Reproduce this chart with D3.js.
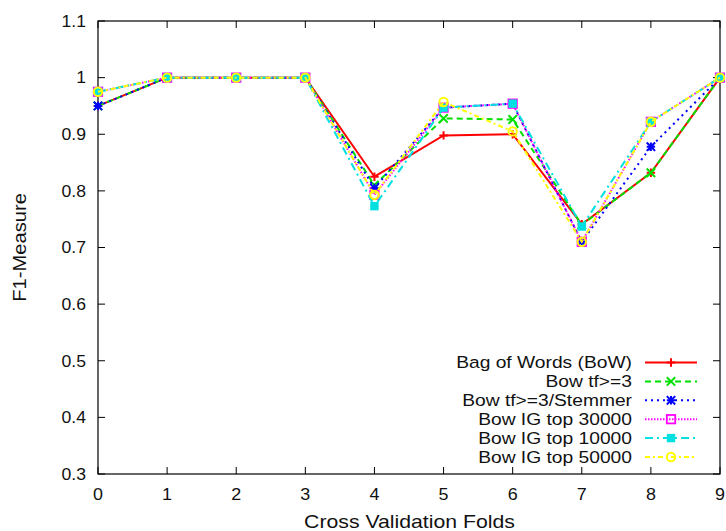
<!DOCTYPE html>
<html><head><meta charset="utf-8">
<script src="https://cdn.jsdelivr.net/npm/d3@7"></script>
<style>body{margin:0;background:#fff}svg{display:block}text{font-family:"Liberation Sans",Arial,sans-serif;fill:#111}</style>
</head><body><svg id="c" width="726" height="531"></svg>
<script>
const folds = [0,1,2,3,4,5,6,7,8,9];
const seriesNames = ["Bag of Words (BoW)","Bow tf>=3","Bow tf>=3/Stemmer","Bow IG top 30000","Bow IG top 10000","Bow IG top 50000"];
const bow       = [0.95,1,1,1,0.825,0.898,0.900,0.741,0.832,1];
const bowTf3    = [0.95,1,1,1,0.810,0.928,0.926,0.740,0.832,1];
const bowStem   = [0.95,1,1,1,0.805,0.947,0.954,0.710,0.878,1];
const bowIG30k  = [0.975,1,1,1,0.793,0.947,0.954,0.710,0.922,1];
const bowIG10k  = [0.975,1,1,1,0.773,0.947,0.954,0.737,0.922,1];
const bowIG50k  = [0.975,1,1,1,0.793,0.957,0.905,0.710,0.922,1];
const yTicks = [0.3,0.4,0.5,0.6,0.7,0.8,0.9,1,1.1];

const styles = [
  {c:"#ff0000", dash:null, m:"plus"},
  {c:"#00e000", dash:"6,4", m:"cross"},
  {c:"#0000ff", dash:"2,4", m:"star"},
  {c:"#ff00ff", dash:"1.5,1.5", m:"osq"},
  {c:"#00e0e0", dash:"8,4,2,4", m:"fsq"},
  {c:"#ffff00", dash:"5,3,2,3", m:"ocirc"}
];
const data = [bow,bowTf3,bowStem,bowIG30k,bowIG10k,bowIG50k];

const svg = d3.select("#c");
const L=98,R=720,T=21,B=474;
const x = d3.scaleLinear().domain([0,9]).range([L,R]);
const y = d3.scaleLinear().domain([0.3,1.1]).range([B,T]);

function label(px,py,str,size,sx,anchor,rot){
  return svg.append("text")
    .attr("transform",`translate(${px},${py})${rot?" rotate("+rot+")":""} scale(${sx},1)`)
    .attr("text-anchor",anchor).attr("font-size",size).text(str);
}

// frame
svg.append("rect").attr("x",L).attr("y",T).attr("width",R-L).attr("height",B-T).attr("fill","none").attr("stroke","#000").attr("stroke-width",1.2);
const tl=7;
yTicks.forEach(v=>{
  svg.append("line").attr("x1",L).attr("x2",L+tl).attr("y1",y(v)).attr("y2",y(v)).attr("stroke","#000");
  svg.append("line").attr("x1",R).attr("x2",R-tl).attr("y1",y(v)).attr("y2",y(v)).attr("stroke","#000");
  label(86,y(v)+5.8,d3.format("~g")(v),16.3,1.08,"end");
});
folds.forEach(v=>{
  svg.append("line").attr("x1",x(v)).attr("x2",x(v)).attr("y1",B).attr("y2",B-tl).attr("stroke","#000");
  svg.append("line").attr("x1",x(v)).attr("x2",x(v)).attr("y1",T).attr("y2",T+tl).attr("stroke","#000");
  label(x(v),500,String(v),16.3,1.1,"middle");
});
label(409.5,527.5,"Cross Validation Folds",18,1.18,"middle");
label(25.5,247.5,"F1-Measure",18,1.12,"middle",-90);

function marker(g,m,c,cx,cy){
  const s=4.2;
  if(m==="plus"||m==="star"){
    g.append("path").attr("d",`M${cx-s},${cy}H${cx+s}M${cx},${cy-s}V${cy+s}`).attr("stroke",c).attr("stroke-width",2).attr("fill","none");
  }
  if(m==="cross"||m==="star"){
    g.append("path").attr("d",`M${cx-s},${cy-s}L${cx+s},${cy+s}M${cx-s},${cy+s}L${cx+s},${cy-s}`).attr("stroke",c).attr("stroke-width",2).attr("fill","none");
  }
  if(m==="osq") g.append("rect").attr("x",cx-s).attr("y",cy-s).attr("width",2*s).attr("height",2*s).attr("fill","none").attr("stroke",c).attr("stroke-width",1.8);
  if(m==="fsq") g.append("rect").attr("x",cx-s).attr("y",cy-s).attr("width",2*s).attr("height",2*s).attr("fill",c);
  if(m==="ocirc") g.append("circle").attr("cx",cx).attr("cy",cy).attr("r",s).attr("fill","none").attr("stroke",c).attr("stroke-width",2);
}

const line = d3.line().x((d,i)=>x(folds[i])).y(d=>y(d));
data.forEach((vals,k)=>{
  const st=styles[k];
  const g=svg.append("g");
  g.append("path").datum(vals).attr("d",line).attr("fill","none").attr("stroke",st.c).attr("stroke-width",2).attr("stroke-dasharray",st.dash);
  vals.forEach((v,i)=>marker(g,st.m,st.c,x(folds[i]),y(v)));
});

// legend
const ly0=362.5, ldy=18.9;
seriesNames.forEach((n,k)=>{
  const st=styles[k], yy=ly0+k*ldy;
  label(632,yy+5.8,n,16.3,1.18,"end");
  svg.append("line").attr("x1",645).attr("x2",697).attr("y1",yy).attr("y2",yy).attr("stroke",st.c).attr("stroke-width",2).attr("stroke-dasharray",st.dash);
  marker(svg,st.m,st.c,671,yy);
});
</script></body></html>
